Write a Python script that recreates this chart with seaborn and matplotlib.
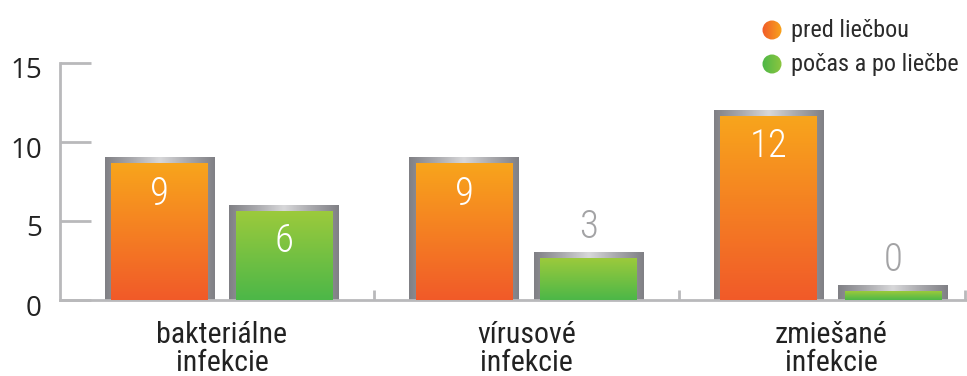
import numpy as np
import pandas as pd
import matplotlib
matplotlib.use("Agg")
import matplotlib.pyplot as plt
import seaborn as sns
from matplotlib.colors import LinearSegmentedColormap
from matplotlib.patches import Circle
from matplotlib import transforms

# --- data -------------------------------------------------------------
categories = ["bakteriálne\ninfekcie", "vírusové\ninfekcie", "zmiešané\ninfekcie"]
series_names = ["pred liečbou", "počas a po liečbe"]
before_values = [9, 9, 12]
after_values = [6, 3, 0]
y_ticks = [0, 5, 10, 15]

df = pd.DataFrame({
    "kategória": categories * 2,
    "obdobie": [series_names[0]] * len(categories) + [series_names[1]] * len(categories),
    "počet": before_values + after_values,
})

# --- styling ----------------------------------------------------------
ORANGE_TOP, ORANGE_BOTTOM = "#f8a51c", "#f15a29"
GREEN_TOP, GREEN_BOTTOM = "#9cca3c", "#4cb748"
AXIS_GREY = "#b9b9bb"
grad_pairs = [(ORANGE_BOTTOM, ORANGE_TOP), (GREEN_BOTTOM, GREEN_TOP)]
frame_cmap = LinearSegmentedColormap.from_list(
    "frame", ["#808085", "#a9a9ad", "#d8d8da", "#a9a9ad", "#808085"])

sns.set_theme(style="white")
TEXT_FONT = ["Roboto Condensed", "Roboto", "DejaVu Sans"]
plt.rcParams["font.family"] = TEXT_FONT

W, H = 967, 376
fig = plt.figure(figsize=(W / 100, H / 100), dpi=100)
ax = fig.add_axes([60 / W, 76 / H, 907 / W, 237 / H])

sns.barplot(data=df, x="kategória", y="počet", hue="obdobie",
            order=categories, hue_order=series_names,
            palette=[ORANGE_BOTTOM, GREEN_BOTTOM],
            width=0.82, gap=0.12, legend=False, ax=ax)

XMIN, XMAX = -0.532, 2.447
YMIN, YMAX = 0, 15
px_x = 907 / (XMAX - XMIN)
px_y = 237 / (YMAX - YMIN)
bx = 6.5 / px_x          # frame side thickness (data units)
by = 6.0 / px_y          # frame top thickness (data units)
stub = 15.0 / px_y       # minimal visible frame for empty bars

hgrad = np.linspace(0, 1, 256).reshape(1, -1)
vgrad = np.linspace(1, 0, 256).reshape(-1, 1)

for p in list(ax.patches):
    x0, w, v = p.get_x(), p.get_width(), p.get_height()
    xc = x0 + w / 2
    s = 0 if xc < round(xc) else 1
    p.set_visible(False)

    top = max(v, stub)
    ax.imshow(hgrad, extent=[x0, x0 + w, 0, top], aspect="auto",
              cmap=frame_cmap, interpolation="bicubic", zorder=2)
    inner_cmap = LinearSegmentedColormap.from_list("inner%d" % s, grad_pairs[s])
    ax.imshow(vgrad, extent=[x0 + bx, x0 + w - bx, 0, top - by], aspect="auto",
              cmap=inner_cmap, vmin=0, vmax=1, interpolation="bicubic", zorder=3)

    label = "%d" % round(v)
    if v >= 5:
        ax.annotate(label, (xc, v), xytext=(0, -36 * 0.72), textcoords="offset points",
                    ha="center", va="center", color="white", fontsize=28,
                    fontweight="light", zorder=5)
    else:
        ax.annotate(label, (xc, top), xytext=(0, 25 * 0.72), textcoords="offset points",
                    ha="center", va="center", color="#a3a3a5", fontsize=28,
                    fontweight="light", zorder=5)

ax.set_xlim(XMIN, XMAX)
ax.set_ylim(YMIN, YMAX)
ax.set_xlabel("")
ax.set_ylabel("")

for side in ("top", "right"):
    ax.spines[side].set_visible(False)
for side in ("left", "bottom"):
    ax.spines[side].set_color(AXIS_GREY)
    ax.spines[side].set_linewidth(2)

ax.set_yticks(y_ticks)
ax.tick_params(axis="y", left=True, direction="in", length=22, width=2,
               color=AXIS_GREY, labelsize=20, pad=13, labelcolor="#222222")
offset = transforms.ScaledTranslation(0, -5 / 100, fig.dpi_scale_trans)
for lbl in ax.get_yticklabels():
    lbl.set_family(["Open Sans", "DejaVu Sans"])
    lbl.set_transform(lbl.get_transform() + offset)

ax.set_xticks(range(len(categories)), categories)
ax.tick_params(axis="x", which="major", length=0, pad=15, labelsize=21.5,
               labelcolor="#222222")
for lbl in ax.get_xticklabels():
    lbl.set_linespacing(1.0)
ax.set_xticks([0.5, 1.5, 2.44], minor=True)
ax.tick_params(axis="x", which="minor", bottom=True, direction="in", length=7,
               width=2, color=AXIS_GREY)

# legend with gradient dots
lax = fig.add_axes([0, 0, 1, 1])
lax.set_xlim(0, W)
lax.set_ylim(H, 0)
lax.axis("off")
legend_rows = [(30, ORANGE_BOTTOM, ORANGE_TOP), (64, GREEN_BOTTOM, "#8dc63f")]
for name, (cy, c0, c1) in zip(series_names, legend_rows):
    cmap = LinearSegmentedColormap.from_list("dot", [c0, c1])
    im = lax.imshow(hgrad, extent=[762, 782, cy + 10, cy - 10], aspect="auto",
                    cmap=cmap, interpolation="bicubic")
    circ = Circle((772, cy), 9.5, transform=lax.transData)
    im.set_clip_path(circ)
    lax.text(791, cy + 7, name, ha="left", va="baseline", fontsize=17.5,
             color="#2b2b2b")
lax.set_xlim(0, W)
lax.set_ylim(H, 0)

fig.savefig("out.png", dpi=100)
